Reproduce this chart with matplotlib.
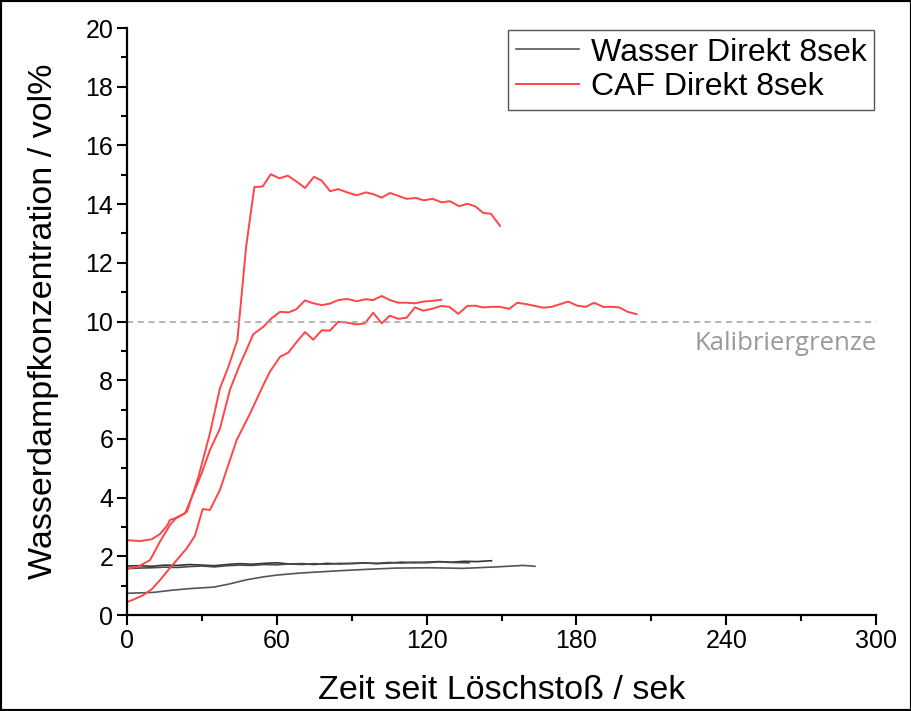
import matplotlib
matplotlib.use("Agg")
import matplotlib.pyplot as plt
from matplotlib.patches import Rectangle
from matplotlib.ticker import MultipleLocator

plt.rcParams['font.family'] = ['Liberation Sans', 'DejaVu Sans']

# CAF Direkt 8sek - three runs
caf1_t = [0, 5.2, 9.9, 13.2, 15.9, 17.2, 20.5, 24.0, 28.6, 33.2, 37.2, 40.6, 44.2, 47.7,
          51.0, 54.3, 57.6, 61.0, 64.4, 68.0, 71.3, 74.9, 78.0, 81.3, 84.6, 88.2, 92.0,
          95.7, 98.6, 102.0, 105.3, 108.7, 112.0, 115.7, 118.9, 122.4, 126.0, 129.3,
          133.0, 136.3, 139.4, 142.7, 145.8, 149.4]
caf1_v = [2.55, 2.52, 2.58, 2.76, 3.03, 3.24, 3.33, 3.52, 4.71, 6.19, 7.72, 8.46, 9.37, 12.55,
          14.58, 14.60, 15.02, 14.88, 14.97, 14.76, 14.55, 14.93, 14.80, 14.44, 14.51, 14.40, 14.30,
          14.40, 14.34, 14.22, 14.38, 14.28, 14.18, 14.21, 14.13, 14.18, 14.06, 14.10,
          13.93, 14.01, 13.93, 13.70, 13.67, 13.26]

caf2_t = [0, 4.5, 9.2, 13.2, 17.2, 19.9, 23.2, 26.6, 29.9, 33.2, 37.2, 41.2, 44.6, 50.6, 54.6,
          57.9, 61.3, 64.6, 67.7, 71.3, 74.6, 78.0, 81.3, 84.6, 88.2, 92.0, 95.7, 98.6, 102.0,
          105.3, 108.7, 112.0, 115.3, 118.7, 122.0, 125.8]
caf2_v = [1.58, 1.65, 1.87, 2.50, 3.07, 3.33, 3.46, 4.15, 4.83, 5.62, 6.35, 7.67, 8.41, 9.57, 9.82,
          10.11, 10.33, 10.31, 10.41, 10.72, 10.62, 10.56, 10.61, 10.73, 10.77, 10.69, 10.76, 10.73, 10.87,
          10.73, 10.64, 10.64, 10.62, 10.68, 10.70, 10.74]

caf3_t = [0, 3.2, 6.5, 9.9, 13.2, 16.5, 20.5, 23.9, 27.2, 30.3, 33.2, 37.2, 43.9, 49.3, 54.6,
          57.3, 61.3, 64.6, 68.0, 71.3, 74.6, 78.0, 81.3, 84.6, 88.2, 92.0, 95.3, 98.6, 102.0,
          105.3, 108.7, 112.0, 115.3, 118.7, 122.0, 125.8, 129.1, 132.7, 136.3, 139.4, 142.7,
          146.0, 149.4, 153.1, 156.3, 160.1, 163.4, 166.7, 170.1, 173.4, 176.7, 180.3, 183.8,
          187.1, 190.7, 194.1, 197.2, 200.5, 204.1]
caf3_v = [0.44, 0.55, 0.68, 0.88, 1.19, 1.53, 1.93, 2.27, 2.70, 3.61, 3.58, 4.26, 5.96, 6.87, 7.84,
          8.30, 8.80, 8.94, 9.31, 9.64, 9.38, 9.70, 9.69, 9.99, 9.96, 9.90, 9.94, 10.30, 9.94,
          10.20, 10.09, 10.13, 10.48, 10.37, 10.43, 10.53, 10.50, 10.26, 10.53, 10.54, 10.48,
          10.50, 10.50, 10.43, 10.64, 10.59, 10.53, 10.47, 10.50, 10.59, 10.68, 10.54, 10.50,
          10.64, 10.50, 10.50, 10.48, 10.33, 10.25]

# Wasser Direkt 8sek - three runs
w1_t = [0, 5, 10, 15, 20, 25, 30, 35, 40, 45, 50, 55, 60, 65, 70, 75, 80, 85, 90, 95,
        100, 105, 110, 115, 120, 125, 130, 135, 140, 146]
w1_v = [1.67, 1.68, 1.66, 1.70, 1.69, 1.72, 1.70, 1.68, 1.72, 1.75, 1.73, 1.76, 1.78, 1.74, 1.75,
        1.72, 1.76, 1.74, 1.76, 1.78, 1.75, 1.77, 1.80, 1.78, 1.80, 1.82, 1.80, 1.83, 1.82, 1.85]

w2_t = [0, 5, 10, 15, 20, 25, 30, 35, 40, 45, 50, 55, 60, 65, 70, 75, 80, 85, 90, 95,
        100, 105, 110, 115, 120, 125, 130, 137]
w2_v = [1.58, 1.60, 1.61, 1.63, 1.62, 1.65, 1.67, 1.64, 1.68, 1.70, 1.69, 1.72, 1.71, 1.74, 1.72,
        1.75, 1.73, 1.76, 1.75, 1.77, 1.76, 1.79, 1.77, 1.80, 1.78, 1.81, 1.79, 1.78]

w3_t = [0, 10.5, 18.5, 25.2, 34.6, 40.6, 47.9, 54.6, 60, 69.3, 77.3, 85.3, 94.6, 108,
        121.3, 134.7, 148.1, 158.7, 163.4]
w3_v = [0.74, 0.77, 0.85, 0.90, 0.95, 1.05, 1.20, 1.30, 1.36, 1.43, 1.47, 1.51, 1.55, 1.60,
        1.61, 1.59, 1.64, 1.69, 1.66]

red = '#ff4545'

fig = plt.figure(figsize=(9.12, 7.11), dpi=100)
ax = fig.add_axes([0.1393, 0.135, 0.8212, 0.8256])

ax.plot(w1_t, w1_v, color='#333333', lw=1.2, label='Wasser Direkt 8sek')
ax.plot(w2_t, w2_v, color='#4a4a4a', lw=1.2)
ax.plot(w3_t, w3_v, color='#555555', lw=1.2)
ax.plot(caf1_t, caf1_v, color=red, lw=1.4, label='CAF Direkt 8sek')
ax.plot(caf2_t, caf2_v, color=red, lw=1.4)
ax.plot(caf3_t, caf3_v, color=red, lw=1.4)

ax.axhline(10, color='#a0a0a0', lw=1.1, ls=(0, (4, 3)))
ax.text(264, 9.25, 'Kalibriergrenze', color='#999999', fontsize=18.5,
        family=['Open Sans', 'DejaVu Sans'], ha='center', va='center')

ax.set_xlim(0, 300)
ax.set_ylim(0, 20)
ax.xaxis.set_major_locator(MultipleLocator(60))
ax.xaxis.set_minor_locator(MultipleLocator(30))
ax.yaxis.set_major_locator(MultipleLocator(2))
ax.yaxis.set_minor_locator(MultipleLocator(1))

for s in ['top', 'right']:
    ax.spines[s].set_visible(False)
for s in ['left', 'bottom']:
    ax.spines[s].set_linewidth(1.6)

ax.tick_params(which='major', direction='out', length=7, width=1.5, labelsize=18, pad=3)
ax.tick_params(which='minor', direction='out', length=4, width=1.5)

ax.set_xlabel('Zeit seit Löschstoß / sek', fontsize=24.5, labelpad=16)
ax.set_ylabel('Wasserdampfkonzentration / vol%', fontsize=24.5, labelpad=19)

leg = ax.legend(loc='upper right', bbox_to_anchor=(1.0, 1.0), borderaxespad=0.05,
                fontsize=23, frameon=True, fancybox=False, framealpha=1,
                handlelength=2.0, handletextpad=0.35, labelspacing=0.15, borderpad=0.25)
leg.get_frame().set_edgecolor('#555555')
leg.get_frame().set_linewidth(1.0)
leg.legend_handles[0].set_color('#555555')

fig.patches.append(Rectangle((0, 0), 1, 1, transform=fig.transFigure, fill=False,
                             edgecolor='black', lw=3))

fig.savefig('out.png', dpi=100)
